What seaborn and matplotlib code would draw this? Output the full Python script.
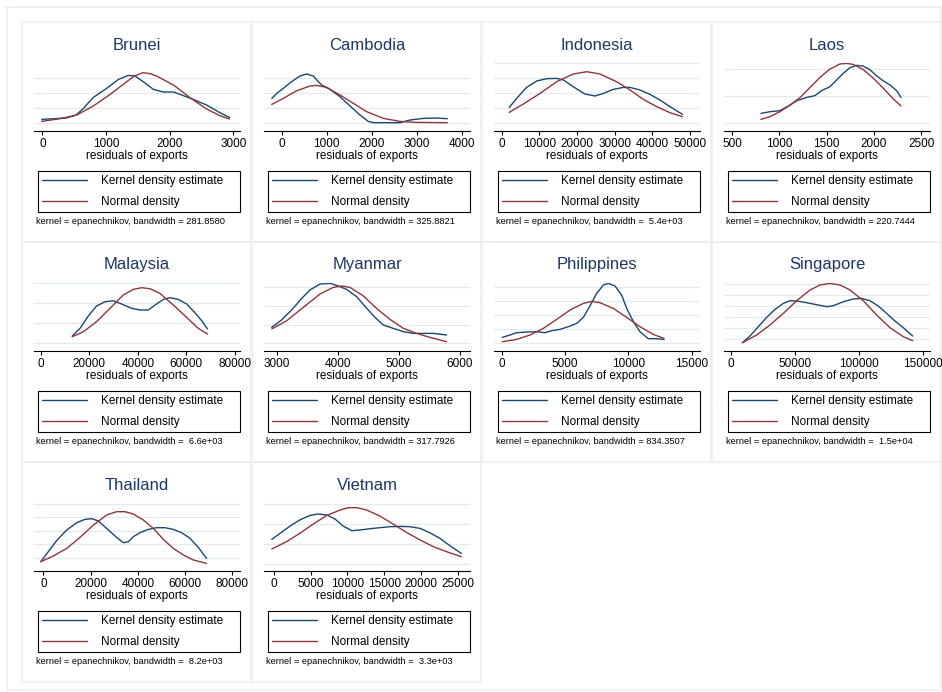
import pandas as pd
import matplotlib.pyplot as plt
import matplotlib.patches as mpatches
import seaborn as sns

# --- data (x = residuals of exports, y = density, arbitrary units) ---
countries = ['Brunei', 'Cambodia', 'Indonesia', 'Laos', 'Malaysia',
             'Myanmar', 'Philippines', 'Singapore', 'Thailand', 'Vietnam']

bandwidths = ['281.8580', '325.8821', ' 5.4e+03', '220.7444', ' 6.6e+03',
              '317.7926', '834.3507', ' 1.5e+04', ' 8.2e+03', ' 3.3e+03']

x_ticks = [
    [0, 1000, 2000, 3000],
    [0, 1000, 2000, 3000, 4000],
    [0, 10000, 20000, 30000, 40000, 50000],
    [500, 1000, 1500, 2000, 2500],
    [0, 20000, 40000, 60000, 80000],
    [3000, 4000, 5000, 6000],
    [0, 5000, 10000, 15000],
    [0, 50000, 100000, 150000],
    [0, 20000, 40000, 60000, 80000],
    [0, 5000, 10000, 15000, 20000, 25000],
]

# hidden y ticks (only their grid lines are shown)
y_grid = [
    [8, 22.8, 37.6, 52.4],
    [8, 22.8, 37.6, 52.4],
    [8, 23, 37.6, 52.4, 67.3],
    [8, 34.7, 61.7],
    [7.3, 27.3, 47.3, 67.3],
    [7.3, 25.7, 44.7, 63.3],
    [7.3, 21.3, 35.3, 49.5, 63.3],
    [11.3, 22.3, 33.3, 44.3, 55.3, 66.3],
    [13, 26.3, 39.7, 53.3, 66.7],
    [6.7, 26.7, 46.7, 66.7],
]

kde_x = [
    [-10, 175, 380, 530, 645, 800, 1010, 1195, 1350, 1455, 1585, 1745, 1900, 2060, 2190, 2370, 2580, 2790, 2940],
    [-220, -110, 35, 220, 405, 555, 705, 780, 890, 1075, 1295, 1520, 1740, 1925, 2040, 2260, 2630, 2850, 3150, 3445, 3680],
    [2000, 4000, 6600, 9300, 11900, 14600, 16400, 19000, 22100, 24800, 27000, 29600, 32300, 34100, 36700, 39400, 42000, 44700, 48000],
    [805, 900, 1005, 1095, 1185, 1290, 1375, 1445, 1535, 1605, 1675, 1745, 1815, 1885, 1960, 2030, 2100, 2170, 2240, 2285],
    [13000, 16200, 19600, 23000, 26500, 29900, 33300, 37500, 40900, 44300, 47100, 50500, 53200, 56700, 60100, 63500, 66300, 68700],
    [2920, 3080, 3245, 3410, 3545, 3710, 3875, 4010, 4145, 4310, 4475, 4610, 4745, 4910, 5075, 5235, 5400, 5565, 5780],
    [50, 660, 1180, 1970, 2760, 3420, 3950, 4600, 5260, 5920, 6450, 6970, 7500, 8030, 8420, 8950, 9470, 9870, 10400, 10920, 11580, 12240, 12820],
    [9000, 14900, 21400, 27900, 34400, 40900, 46100, 51300, 59100, 66900, 74700, 79900, 87700, 95500, 101900, 108400, 114900, 121400, 127900, 134400, 141700],
    [-1100, 2100, 5600, 9900, 14100, 17600, 20500, 23300, 26800, 31000, 33900, 36000, 38100, 40900, 44400, 48000, 51500, 55000, 58600, 62100, 65600, 69100],
    [-300, 800, 2200, 3500, 4900, 6000, 7200, 8300, 9400, 10600, 11700, 13100, 14400, 15800, 17200, 18500, 19900, 21200, 22600, 24000, 25500],
]
kde_y = [
    [11.3, 12.0, 12.7, 15.7, 22.3, 33.3, 42.3, 51.3, 55.3, 54.7, 49.0, 41.3, 38.7, 38.7, 35.7, 31.3, 25.7, 18.0, 13.3],
    [32.3, 37.3, 42.3, 49.0, 54.7, 56.7, 54.7, 50.7, 45.7, 41.3, 34.0, 24.7, 15.7, 9.3, 8.0, 8.0, 8.0, 10.7, 12.3, 12.7, 12.0],
    [23.3, 32.3, 43.3, 49.7, 52.0, 52.3, 50.7, 44.0, 36.7, 34.7, 37.3, 41.3, 43.3, 43.3, 40.7, 36.3, 30.7, 24.0, 16.3],
    [17.3, 19.0, 20.0, 24.7, 30.0, 33.3, 35.0, 40.0, 44.0, 50.7, 57.3, 63.0, 65.3, 64.7, 60.7, 54.7, 49.7, 45.7, 40.0, 33.3],
    [14.7, 22.3, 34.7, 44.7, 49.0, 50.0, 46.7, 42.3, 40.7, 40.7, 45.7, 51.3, 53.0, 51.3, 46.7, 38.0, 30.0, 21.7],
    [23.3, 30.7, 40.7, 52.3, 60.7, 66.7, 67.3, 64.7, 61.3, 54.0, 42.3, 33.3, 25.7, 22.3, 19.0, 17.3, 17.3, 17.3, 15.7],
    [13.3, 15.7, 18.0, 18.7, 19.0, 18.0, 20.0, 21.3, 24.0, 27.3, 33.3, 44.7, 57.3, 65.7, 67.3, 64.7, 55.7, 42.3, 29.0, 19.0, 12.0, 12.0, 11.3],
    [8.0, 14.7, 24.0, 33.3, 41.3, 47.3, 50.0, 49.7, 48.0, 46.0, 44.0, 45.0, 49.0, 51.7, 52.3, 50.0, 44.7, 37.3, 29.7, 23.0, 14.7],
    [9.0, 19.0, 30.0, 40.7, 48.0, 51.3, 52.0, 49.7, 42.3, 33.3, 28.0, 29.0, 34.0, 38.0, 41.3, 43.0, 43.0, 41.3, 38.0, 32.3, 23.3, 12.3],
    [31.3, 37.3, 44.7, 50.7, 55.3, 56.7, 55.7, 51.7, 44.7, 40.0, 40.7, 42.0, 43.0, 44.0, 44.3, 44.0, 42.3, 38.0, 32.3, 24.7, 17.3],
]

norm_x = [
    [-10, 275, 540, 800, 1065, 1325, 1450, 1580, 1700, 1800, 2060, 2320, 2580, 2790, 2940],
    [-220, 35, 335, 630, 780, 1000, 1295, 1595, 1890, 2260, 2630, 3000, 3680],
    [2000, 5750, 10200, 14600, 19000, 22600, 26100, 30500, 34100, 37600, 41200, 44700, 48000],
    [805, 900, 1005, 1115, 1220, 1325, 1430, 1535, 1640, 1710, 1780, 1885, 1995, 2100, 2205, 2285],
    [13000, 17600, 23000, 28500, 34000, 38100, 41600, 45000, 49100, 54600, 60100, 64900, 68700],
    [2920, 3165, 3435, 3710, 3925, 4065, 4200, 4420, 4635, 4855, 5075, 5290, 5510, 5780],
    [50, 1180, 2240, 3290, 4340, 5400, 6450, 7100, 7760, 8820, 9870, 10920, 11970, 12820],
    [9000, 20100, 30500, 40900, 51300, 61700, 69500, 77300, 85100, 92900, 103200, 113600, 124000, 134400, 141700],
    [-1100, 4200, 9900, 15500, 21200, 26800, 31000, 34600, 38100, 42300, 46600, 50800, 55000, 59300, 63500, 69100],
    [-300, 1700, 3500, 5350, 7200, 9000, 10100, 11300, 12600, 14400, 16200, 18100, 19900, 21700, 23500, 25500],
]
norm_y = [
    [9.3, 12.0, 15.7, 24.7, 36.3, 49.0, 54.8, 58.0, 57.0, 54.5, 45.7, 33.0, 21.7, 15.0, 11.7],
    [26.3, 32.3, 40.0, 44.7, 45.3, 43.3, 35.7, 27.3, 19.0, 12.3, 9.3, 8.3, 8.0],
    [18.3, 26.7, 37.3, 49.0, 56.7, 59.0, 56.7, 49.0, 40.7, 31.3, 24.0, 18.0, 14.0],
    [11.3, 14.0, 19.0, 25.7, 33.3, 43.3, 53.3, 61.7, 66.7, 67.3, 66.3, 61.3, 52.3, 42.3, 31.7, 24.7],
    [14.0, 19.0, 29.0, 42.3, 55.7, 61.3, 63.0, 62.0, 57.3, 45.7, 33.3, 22.3, 16.7],
    [21.7, 30.0, 43.3, 56.7, 63.3, 64.7, 63.3, 54.7, 42.3, 31.3, 22.3, 17.3, 13.3, 9.0],
    [9.0, 11.3, 15.7, 22.3, 31.3, 40.7, 47.3, 49.3, 48.0, 42.3, 33.3, 24.0, 16.3, 12.3],
    [8.0, 15.7, 25.7, 37.3, 50.0, 60.7, 65.7, 67.3, 65.7, 60.7, 50.0, 35.7, 23.0, 14.0, 10.0],
    [9.0, 14.7, 22.3, 33.3, 45.7, 55.7, 59.0, 59.0, 56.7, 50.7, 42.3, 31.3, 22.3, 15.7, 10.7, 7.3],
    [21.7, 29.0, 37.3, 46.7, 55.3, 60.7, 63.0, 63.0, 60.7, 54.7, 46.7, 38.0, 30.7, 24.0, 19.0, 14.0],
]

# x range of each plot region
x_lims = [(-131, 3105), (-393, 4185), (-2035, 52655), (415, 2592), (-2744, 82058),
          (2793, 6164), (-605, 15658), (-5325, 155195), (-3951, 83245), (-1361, 26679)]

series_names = ['Kernel density estimate', 'Normal density']
series_colors = {'Kernel density estimate': '#1a476f', 'Normal density': '#90353b'}

# --- style ---
sns.set_style('white')
plt.rcParams['font.family'] = ['Liberation Sans', 'DejaVu Sans']
plt.rcParams['text.color'] = 'black'
plt.rcParams['axes.labelcolor'] = 'black'
plt.rcParams['xtick.color'] = 'black'
plt.rcParams['xtick.labelcolor'] = 'black'

W, H = 942, 692
fig = plt.figure(figsize=(W / 100, H / 100), dpi=100)
fig.patch.set_facecolor('white')

frame_col = '#eaf0f2'
grid_col = '#e3ebee'
title_col = '#1e3763'


def px_rect(x0, y0, w, h):
    # pixel box (top-left origin) -> figure fraction
    return [x0 / W, 1 - (y0 + h) / H, w / W, h / H]


# background layer for the frames
bg = fig.add_axes([0, 0, 1, 1], zorder=-5)
bg.set_xlim(0, W)
bg.set_ylim(H, 0)
bg.axis('off')
bg.add_patch(mpatches.Rectangle((7, 7), 934, 683, fill=False, ec=frame_col, lw=1.2))

col_left = [22, 252, 482, 712]
row_top = [22, 242, 462]

for i, name in enumerate(countries):
    pl = col_left[i % 4]
    rt = row_top[i // 4]
    bg.add_patch(mpatches.Rectangle((pl, rt), 229, 220, fill=False, ec=frame_col, lw=1.2))

    ax = fig.add_axes(px_rect(pl + 12, rt + 40.7, 206, 68))
    df = pd.concat([
        pd.DataFrame({'x': kde_x[i], 'density': kde_y[i], 'curve': series_names[0]}),
        pd.DataFrame({'x': norm_x[i], 'density': norm_y[i], 'curve': series_names[1]}),
    ])
    sns.lineplot(data=df, x='x', y='density', hue='curve', palette=series_colors,
                 estimator=None, sort=False, linewidth=1.0, ax=ax, legend=False)

    ax.set_xlim(*x_lims[i])
    ax.set_ylim(0, 68)
    ax.set_xticks(x_ticks[i])
    ax.set_xticklabels([str(t) for t in x_ticks[i]])
    ax.set_yticks(y_grid[i])
    ax.set_yticklabels([])
    ax.tick_params(axis='y', length=0)
    ax.tick_params(axis='x', direction='out', length=3.2, width=0.8, pad=2.2,
                   labelsize=8.5, color='black', labelcolor='black', bottom=True)
    ax.yaxis.grid(True, color=grid_col, linewidth=0.9)
    ax.xaxis.grid(False)
    for side in ['top', 'left', 'right']:
        ax.spines[side].set_visible(False)
    ax.spines['bottom'].set_color('black')
    ax.spines['bottom'].set_linewidth(0.8)
    ax.set_facecolor('none')
    ax.set_ylabel('')
    ax.set_xlabel('residuals of exports', fontsize=8.5, labelpad=0, color='black')

    fig.text((pl + 115) / W, 1 - (rt + 23) / H, name, ha='center', va='center',
             fontsize=12, color=title_col)

    lg = ax.legend(handles=ax.get_lines()[:2], labels=series_names,
                   loc='upper left', mode='expand',
                   bbox_to_anchor=((pl + 16) / W, 1 - (rt + 190) / H, 202 / W, 41 / H),
                   bbox_transform=fig.transFigure, borderaxespad=0,
                   fontsize=8.5, frameon=True, fancybox=False, framealpha=1,
                   edgecolor='black', borderpad=0.35, labelspacing=0.78,
                   handlelength=3.8, handletextpad=1.2, labelcolor='black')
    lg.get_frame().set_linewidth(0.8)

    fig.text((pl + 14) / W, 1 - (rt + 200) / H,
             f'kernel = epanechnikov, bandwidth = {bandwidths[i]}',
             ha='left', va='center', fontsize=6.7, color='black')

fig.savefig('out.png', dpi=100, facecolor='white')
